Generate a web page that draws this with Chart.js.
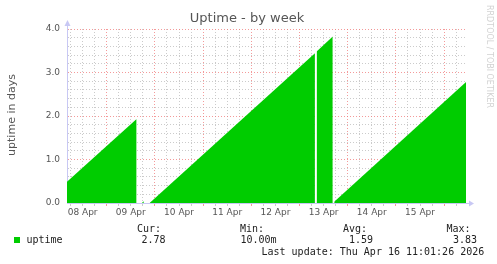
<!DOCTYPE html>
<html>
<head>
<meta charset="utf-8">
<script src="https://cdn.jsdelivr.net/npm/chart.js@4"></script>
<style>
  body { margin: 0; background: #fff; }
  #wrap { position: relative; width: 497px; height: 264px; overflow: hidden; }
  #chartCanvas { position: absolute; left: 0; top: 0; }
  .txt { position: absolute; white-space: pre; }
  .title { font: 13px "DejaVu Sans"; line-height: 13px; color: #555; left: 0; width: 494px; text-align: center; top: 11px; }
  .ylab { font: 11px "DejaVu Sans"; line-height: 14px; color: #555; width: 120px; text-align: center; left: -48.5px; top: 108px; transform: rotate(-90deg); }
  .mark { font: 8px "DejaVu Sans"; line-height: 10px; color: #d2d2d2; writing-mode: vertical-rl; left: 484px; top: 5px; }
  .leg { font: 10px "DejaVu Sans Mono"; line-height: 10px; color: #222; }
  .box { position: absolute; left: 14px; top: 237px; width: 6px; height: 6px; background: #00cc00; }
</style>
</head>
<body>
<div id="wrap">
  <canvas id="chartCanvas" width="497" height="264"></canvas>
  <div class="txt title">Uptime - by week</div>
  <div class="txt ylab">uptime in days</div>
  <div class="txt mark">RRDTOOL / TOBI OETIKER</div>
  <div class="box"></div>
  <div class="txt leg" style="left:137px;top:223.5px">Cur:</div>
  <div class="txt leg" style="left:240px;top:223.5px">Min:</div>
  <div class="txt leg" style="left:343px;top:223.5px">Avg:</div>
  <div class="txt leg" style="left:446.5px;top:223.5px">Max:</div>
  <div class="txt leg" style="left:26.5px;top:234.5px">uptime</div>
  <div class="txt leg" style="left:141.5px;top:234.5px">2.78</div>
  <div class="txt leg" style="left:240.5px;top:234.5px">10.00m</div>
  <div class="txt leg" style="left:349px;top:234.5px">1.59</div>
  <div class="txt leg" style="left:453px;top:234.5px">3.83</div>
  <div class="txt leg" style="left:261.5px;top:247px">Last update: Thu Apr 16 11:01:26 2026</div>
</div>
<script>
// x = days since 08 Apr 00:00, y = uptime in days (null = no data)
const times  = [0.176, 1.62, 1.63, 1.735, 1.77, 1.80, 1.89, 5.32, 5.335, 5.355, 5.69, 5.70, 5.72, 8.455];
const uptime = [0.49,  1.93, null, 0.01,  0.04, null, 0.00, 3.44, null,  3.48,  3.83, null, 0.03, 2.78];

const dayLabels = ["08 Apr", "09 Apr", "10 Apr", "11 Apr", "12 Apr", "13 Apr", "14 Apr", "15 Apr"];
const yLabels = ["0.0", "1.0", "2.0", "3.0", "4.0"];

const xMin = 0.176, xMax = 8.475; // 08 Apr 04:13 .. 16 Apr 11:24
const yMin = 0, yMax = 4;

const majorGrid = "rgba(240,120,120,0.75)";
const minorGrid = "rgba(190,190,190,0.8)";
const axisColor = "#c8c8f4";

function isWhole(v) {
  return Math.abs(v - Math.round(v)) < 1e-6;
}

// small arrows at the end of both axes, like rrdtool
const axisArrows = {
  id: "axisArrows",
  afterDraw(c) {
    const { ctx, chartArea: a } = c;
    ctx.save();
    ctx.strokeStyle = axisColor;
    ctx.fillStyle = axisColor;
    ctx.lineWidth = 1;
    ctx.beginPath();
    ctx.moveTo(a.left + 0.5, a.top);
    ctx.lineTo(a.left + 0.5, a.top - 6);
    ctx.moveTo(a.right, a.bottom + 0.5);
    ctx.lineTo(a.right + 4, a.bottom + 0.5);
    ctx.stroke();
    ctx.beginPath();
    ctx.moveTo(a.left - 2.5, a.top - 3);
    ctx.lineTo(a.left + 3.5, a.top - 3);
    ctx.lineTo(a.left + 0.5, a.top - 9);
    ctx.fill();
    ctx.beginPath();
    ctx.moveTo(a.right + 2, a.bottom - 2.5);
    ctx.lineTo(a.right + 2, a.bottom + 3.5);
    ctx.lineTo(a.right + 7, a.bottom + 0.5);
    ctx.fill();
    ctx.restore();
  },
};

const ctx = document.getElementById("chartCanvas").getContext("2d");
new Chart(ctx, {
  type: "line",
  data: {
    datasets: [
      {
        label: "uptime",
        data: times.map((t, i) => ({ x: t, y: uptime[i] })),
        backgroundColor: "#00cc00",
        borderWidth: 0,
        pointRadius: 0,
        fill: "origin",
        tension: 0,
        spanGaps: false,
      },
    ],
  },
  options: {
    responsive: false,
    animation: false,
    events: [],
    layout: { padding: { left: 0, right: 30, top: 29, bottom: 41 } },
    plugins: { legend: { display: false }, tooltip: { enabled: false } },
    scales: {
      x: {
        type: "linear",
        min: xMin,
        max: xMax,
        afterBuildTicks: (s) => {
          const t = [];
          for (let q = 1; q <= 33; q++) {
            const v = q / 4; // every 6 hours
            if (v > xMin && v < xMax) t.push({ value: v });
          }
          s.ticks = t;
        },
        afterFit: (s) => { s.height = 20; },
        ticks: {
          autoSkip: false,
          maxRotation: 0,
          padding: 1,
          color: "#555",
          font: { family: "DejaVu Sans", size: 9 },
          callback: (v) => (isWhole(v - 0.5) ? dayLabels[Math.round(v - 0.5)] : ""),
        },
        grid: {
          color: (c) => (c.tick && isWhole(c.tick.value) ? majorGrid : minorGrid),
          tickLength: 3,
          drawTicks: true,
        },
        border: { color: axisColor, dash: [1, 2] },
      },
      y: {
        min: yMin,
        max: yMax,
        afterBuildTicks: (s) => {
          const t = [];
          for (let q = 0; q <= 20; q++) t.push({ value: q / 5 });
          s.ticks = t;
        },
        afterFit: (s) => { s.width = 67; },
        ticks: {
          autoSkip: false,
          padding: 7,
          color: "#555",
          font: { family: "DejaVu Sans", size: 9 },
          callback: (v) => (isWhole(v) ? yLabels[Math.round(v)] : ""),
        },
        grid: {
          color: (c) => (c.tick && isWhole(c.tick.value) ? majorGrid : minorGrid),
          drawTicks: false,
        },
        border: { color: axisColor, dash: [1, 2] },
      },
    },
  },
  plugins: [axisArrows],
});
</script>
</body>
</html>
